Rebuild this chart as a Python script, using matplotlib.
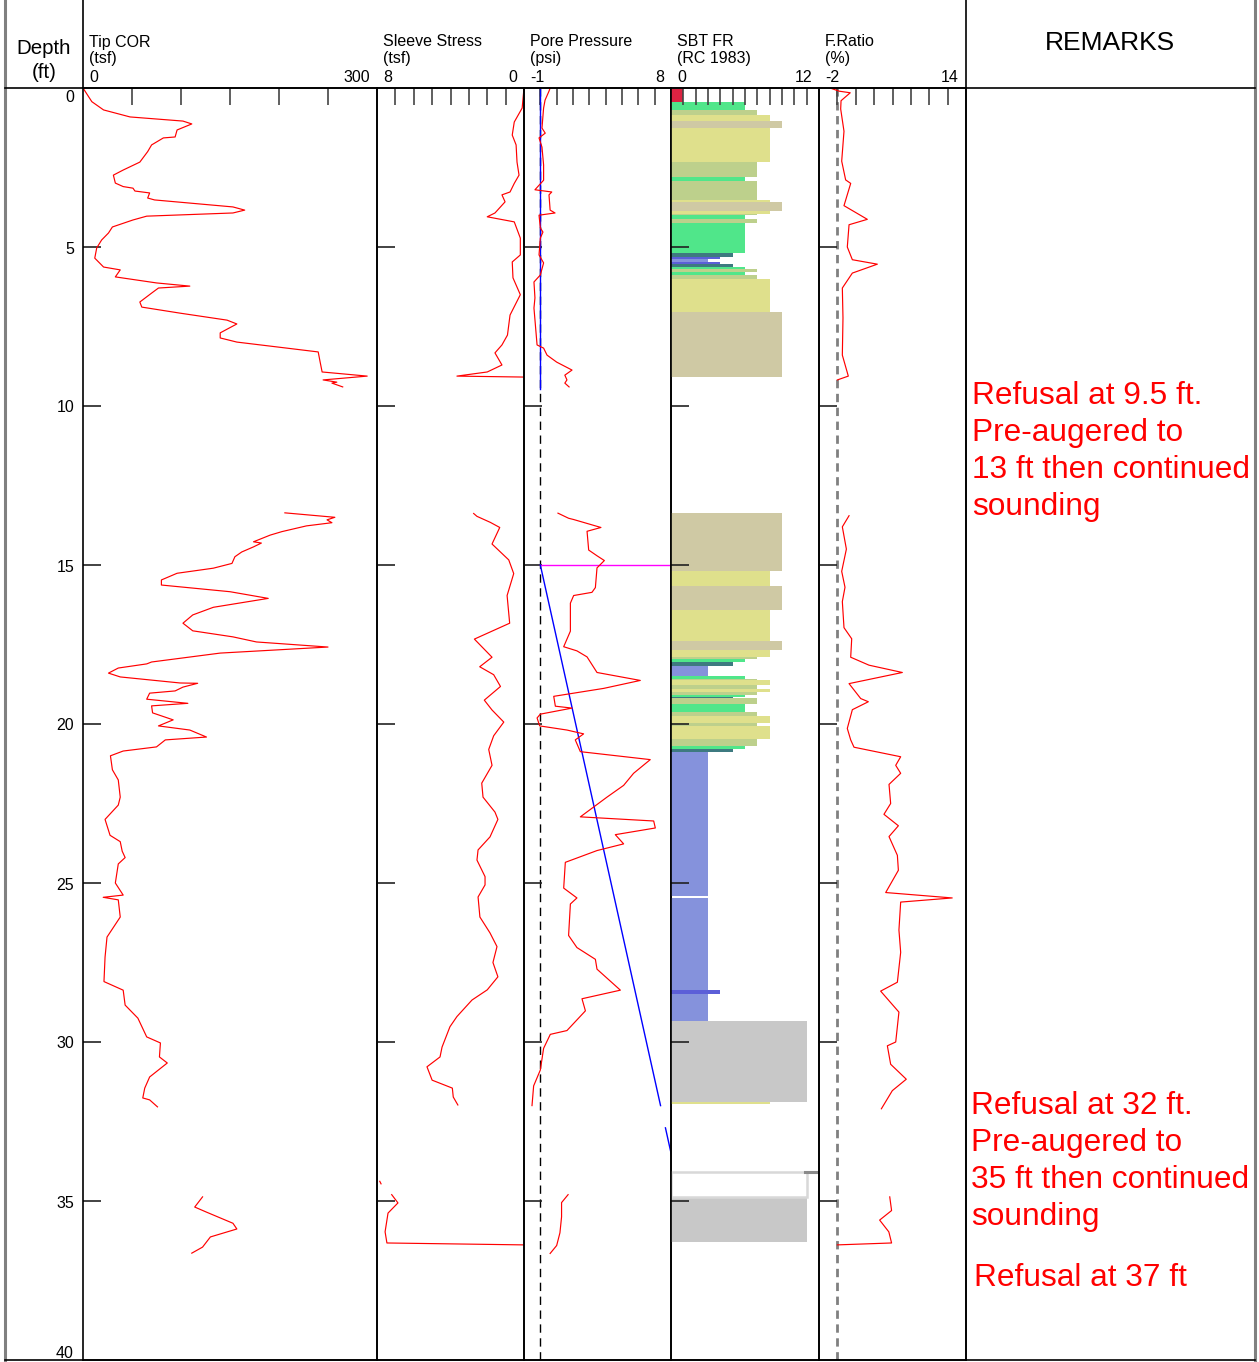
import matplotlib
matplotlib.use("Agg")
import matplotlib.pyplot as plt
from matplotlib.lines import Line2D

plt.rcParams['font.family'] = ['Liberation Sans', 'DejaVu Sans']

W, H = 1259, 1362
TOP, BOT = 88, 1360          # pixel rows of depth 0 and depth 40
MAX_DEPTH = 40

# ---- Tip COR (tsf) ----
tip_depth_a = [0, 0.43, 0.69, 0.91, 1.04, 1.13, 1.32, 1.54, 1.57, 1.79, 2.0, 2.33, 2.58, 2.74,
               2.99, 3.1, 3.15, 3.24, 3.3, 3.46, 3.52, 3.74, 3.84, 3.93, 4.03, 4.15, 4.37, 4.56,
               4.78, 5.03, 5.35, 5.63, 5.72, 5.94, 6.13, 6.23, 6.29, 6.45, 6.73, 6.89, 7.08, 7.3,
               7.42, 7.7, 7.86, 7.99, 8.18, 8.3, 8.62, 8.93, 9.06, 9.18, 9.25, 9.28, 9.4]
tip_tsf_a = [0, 9, 21, 48, 102, 111, 96, 94, 82, 70, 66, 58, 41, 31, 33, 41, 51, 53, 68, 66, 73,
             153, 165, 153, 65, 51, 30, 26, 19, 14, 12, 21, 38, 33, 75, 109, 77, 70, 58, 60, 99,
             147, 157, 140, 140, 157, 208, 240, 242, 244, 290, 245, 259, 254, 265]
tip_depth_b = [13.36, 13.5, 13.58, 13.67, 13.77, 13.95, 14.06, 14.27, 14.31, 14.43, 14.59, 14.74,
               14.95, 15.1, 15.26, 15.47, 15.63, 15.84, 16.05, 16.33, 16.57, 16.83, 17.07, 17.26,
               17.42, 17.58, 17.77, 18.05, 18.11, 18.24, 18.4, 18.52, 18.71, 18.72, 18.84, 18.96,
               19.03, 19.22, 19.35, 19.43, 19.65, 19.87, 20.06, 20.19, 20.41, 20.5, 20.72, 20.85,
               21.0, 21.44, 21.76, 22.3, 22.55, 23.0, 23.5, 23.7, 24.0, 24.2, 24.4, 25.0, 25.38,
               25.45, 25.53, 26.07, 26.7, 27.33, 28.1, 28.37, 28.84, 29.25, 29.84, 30.03, 30.47,
               30.66, 31.1, 31.45, 31.76, 31.82, 32.04]
tip_tsf_b = [206, 257, 249, 254, 228, 203, 191, 174, 182, 174, 162, 155, 152, 133, 96, 80, 80,
             150, 189, 133, 112, 102, 112, 153, 177, 250, 140, 70, 65, 36, 26, 38, 99, 117, 102,
             94, 68, 65, 107, 70, 71, 92, 77, 109, 126, 84, 75, 41, 28, 30, 36, 38, 36, 22.5,
             27.6, 38, 40, 43, 36, 33, 41, 20.6, 36, 38, 24.5, 22.5, 21.4, 41, 43, 56, 65, 79, 78,
             86, 68, 63, 61, 68, 76]
tip_depth_c = [34.87, 35.19, 35.35, 35.7, 35.88, 36.13, 36.45, 36.64]
tip_tsf_c = [122, 114, 126, 153, 157, 130, 122, 111]

# ---- Sleeve stress (tsf) ----
fs_depth_a = [0, 0.63, 1.07, 1.48, 1.79, 2.33, 2.74, 3.0, 3.27, 3.36, 3.58, 3.93, 4.05, 4.21,
              4.72, 5.25, 5.47, 5.97, 6.5, 7.14, 7.77, 8.08, 8.33, 8.71, 8.93, 9.06, 9.09]
fs_tsf_a = [0, 0.1, 0.53, 0.64, 0.43, 0.38, 0.27, 0.53, 0.76, 1.2, 1.03, 1.58, 2.0, 0.53, 0.2,
            0.2, 0.64, 0.6, 0.2, 0.76, 0.9, 1.2, 1.58, 1.2, 2.0, 3.65, 0.0]
fs_depth_b = [13.38, 13.47, 13.66, 13.82, 14.34, 14.84, 15.27, 15.96, 16.83, 17.33, 17.9, 18.2,
              18.45, 18.82, 19.25, 19.56, 19.94, 20.37, 20.8, 21.3, 21.86, 22.3, 22.77, 23.0,
              23.55, 23.96, 24.28, 24.8, 25.06, 25.44, 26.07, 26.57, 27.0, 27.5, 27.95, 28.36,
              28.68, 29.2, 29.52, 30.16, 30.47, 30.78, 31.2, 31.45, 31.73, 31.98]
fs_tsf_b = [2.74, 2.56, 1.83, 1.32, 1.74, 0.83, 0.56, 0.92, 0.78, 2.7, 1.74, 2.41, 1.65, 1.28,
            2.16, 1.74, 1.1, 1.65, 1.92, 1.74, 2.3, 2.23, 1.58, 1.42, 1.85, 2.5, 2.56, 2.12,
            2.12, 2.5, 2.4, 1.85, 1.47, 1.69, 1.42, 2.0, 2.83, 3.65, 4.03, 4.46, 4.57, 5.28, 5.0,
            3.9, 3.85, 3.6]
fs_depth_c = [34.8, 35.06, 35.38, 35.97, 36.32, 36.38]
fs_tsf_c = [7.2, 6.86, 7.4, 7.56, 7.46, 0.05]
fs_depth_dot = [34.38, 34.46]
fs_tsf_dot = [7.85, 7.78]

# ---- Pore pressure (psi) ----
u_depth_a = [0, 0.1, 0.38, 0.63, 1.26, 1.42, 1.57, 1.86, 2.42, 2.9, 3.2, 3.27, 3.36, 3.84, 3.93,
             4.0, 4.4, 4.53, 4.72, 5.25, 5.5, 5.88, 6.1, 6.6, 6.92, 8.08, 8.18, 8.4, 8.62, 8.87,
             9.03, 9.18, 9.28, 9.4]
u_psi_a = [0.6, 0.53, 0.29, 0.2, 0.1, 0.3, -0.08, 0.1, 0.2, 0.2, -0.33, 0.7, 0.53, 0.6, 0.9,
           -0.08, 0.0, 0.16, 0.0, -0.08, 0.2, 0.0, -0.39, -0.33, -0.39, -0.2, 0.2, 0.41, 1.0,
           1.94, 1.5, 1.63, 1.5, 1.76]
u_depth_b = [13.37, 13.53, 13.57, 13.82, 13.94, 14.53, 14.71, 14.86, 15.09, 15.71, 15.86, 15.96,
             16.2, 17.08, 17.57, 17.7, 17.89, 18.38, 18.63, 18.88, 19.13, 19.44, 19.5, 19.69,
             19.81, 20.06, 20.19, 20.31, 20.5, 20.87, 21.12, 21.55, 21.93, 22.3, 22.92, 23.05,
             23.27, 23.48, 23.77, 23.98, 24.35, 25.16, 25.47, 25.66, 26.65, 27.03, 27.4, 27.71,
             28.37, 28.64, 29.02, 29.64, 29.76, 30.2, 30.88, 31.38, 32.0]
u_psi_b = [1.08, 1.73, 2.04, 3.71, 2.86, 2.96, 3.47, 3.92, 3.47, 3.37, 3.16, 2.04, 1.84, 1.84,
           1.43, 2.24, 2.86, 3.47, 6.12, 3.88, 0.82, 0.92, 1.94, 0.0, -0.2, -0.04, 1.63, 2.65,
           2.14, 2.45, 6.73, 5.71, 5.1, 4.08, 2.45, 6.94, 7.04, 4.59, 5.1, 3.47, 1.53, 1.43,
           2.24, 1.84, 1.73, 2.24, 3.37, 3.47, 4.9, 2.55, 2.76, 1.63, 0.61, 0.2, 0.0, -0.41,
           -0.51]
u_depth_c = [34.8, 35.05, 35.5, 36.0, 36.4, 36.65]
u_psi_c = [1.7, 1.3, 1.3, 1.2, 1.0, 0.6]

# hydrostatic line (water table at 15 ft)
water_table = 15.0
hydro_depth_a = [0, 9.45]
hydro_psi_a = [0, 0]
hydro_depth_b = [15.0, 32.0]
hydro_psi_b = [0, 7.36]
hydro_depth_c = [32.7, 34.0]
hydro_psi_c = [7.66, 8.22]

# ---- Friction ratio (%) ----
fr_depth_a = [0.0, 0.1, 0.15, 0.4, 0.66, 1.36, 2.3, 2.89, 3.0, 3.7, 4.13, 4.3, 5.0, 5.4, 5.54,
              5.82, 6.29, 7.23, 8.4, 9.06, 9.18]
fr_pct_a = [-0.8, 0.2, 1.4, 0.4, 0.36, 0.72, 0.47, 0.9, 1.45, 0.72, 3.26, 1.27, 1.08, 1.63,
            4.35, 1.63, 0.54, 0.61, 0.54, 1.19, 0.0]
fr_depth_b = [13.45, 13.8, 14.5, 15.2, 15.7, 16.15, 16.97, 17.32, 17.9, 18.15, 18.38, 18.73,
              19.2, 19.3, 19.55, 20.14, 20.5, 20.73, 21.03, 21.3, 21.55, 21.9, 22.5, 22.84,
              23.2, 23.54, 24.13, 24.6, 25.3, 25.47, 25.6, 26.48, 27.18, 28.12, 28.4, 29.06,
              30.0, 30.12, 30.7, 31.17, 31.53, 32.1]
fr_pct_b = [1.27, 0.54, 0.98, 0.47, 0.83, 0.54, 0.72, 1.56, 1.45, 3.44, 7.07, 1.27, 2.54, 3.37,
            1.63, 1.08, 1.45, 1.81, 6.89, 6.35, 6.89, 5.62, 5.8, 5.07, 6.64, 5.62, 6.53, 6.64,
            5.26, 12.5, 6.89, 6.7, 6.89, 6.53, 4.71, 6.7, 6.35, 5.44, 5.8, 7.5, 5.98, 4.79]
fr_depth_c = [34.87, 35.3, 35.6, 35.97, 36.32, 36.38]
fr_pct_c = [5.7, 5.9, 4.6, 5.6, 5.9, 0.0]

# ---- SBT layers (top ft, bottom ft, zone) ----
sbt_top = [0.03, 0.44, 0.69, 0.85, 1.04, 1.26, 2.33, 2.80, 2.92, 3.52, 3.58, 3.87, 3.95, 4.0,
           4.12, 4.26, 5.19, 5.31, 5.38, 5.47, 5.53, 5.62, 5.68, 5.79, 5.88, 6.0, 7.05,
           13.36, 15.2, 15.66, 16.4, 17.4, 17.67, 17.9, 17.97, 18.05, 18.18, 18.5, 18.57,
           18.62, 18.77, 18.9, 18.98, 19.08, 19.14, 19.17, 19.37, 19.62, 19.75, 19.97, 20.06,
           20.47, 20.69, 20.8, 20.88, 25.48, 28.35, 28.5, 29.33, 31.9, 34.87]
sbt_bot = [0.44, 0.69, 0.85, 1.04, 1.26, 2.33, 2.80, 2.92, 3.52, 3.58, 3.87, 3.95, 4.0, 4.12,
           4.26, 5.19, 5.31, 5.38, 5.47, 5.53, 5.62, 5.68, 5.79, 5.88, 6.0, 7.05, 9.09,
           15.2, 15.66, 16.4, 17.4, 17.67, 17.9, 17.97, 18.05, 18.18, 18.5, 18.57, 18.62,
           18.77, 18.9, 18.98, 19.08, 19.14, 19.17, 19.37, 19.62, 19.75, 19.97, 20.06, 20.47,
           20.69, 20.8, 20.88, 25.42, 28.35, 28.5, 29.33, 31.9, 31.96, 36.3]
sbt_zone = [1, 6, 7, 8, 9, 8, 7, 6, 7, 8, 9, 8, 7, 6, 7, 6, 5, 4, 3, 4, 5, 6, 7, 6, 7, 8, 9,
            9, 8, 9, 8, 9, 8, 7, 6, 5, 3, 6, 7, 8, 7, 8, 7, 6, 5, 7, 6, 7, 8, 7, 8,
            7, 6, 5, 3, 3, 4, 3, 11, 8, 11]
augered_top, augered_bot, augered_zone = 34.08, 34.87, 11

ZONE_COLORS = {1: '#dc2342', 3: '#8592dc', 4: '#5c5fd8', 5: '#3e7a80', 6: '#50e68a',
               7: '#bdd08c', 8: '#dfe08c', 9: '#cfc9a4', 11: '#c8c8c8'}

remarks_1 = ["Refusal at 9.5 ft.", "Pre-augered to", "13 ft then continued", "sounding"]
remarks_2 = ["Refusal at 32 ft.", "Pre-augered to", "35 ft then continued", "sounding"]
remarks_3 = ["Refusal at 37 ft"]

# panel layout: x0, x1 (pixels), xlim, tick values, title, unit, range labels
PANELS = [
    ("tip", 83, 377, (0, 300), [50, 100, 150, 200, 250], "Tip COR", "(tsf)", ("0", "300")),
    ("fs", 377, 524, (8, 0), [7, 6, 5, 4, 3, 2, 1], "Sleeve Stress", "(tsf)", ("8", "0")),
    ("u", 524, 671, (-1, 8), [0, 1, 2, 3, 4, 5, 6, 7], "Pore Pressure", "(psi)", ("-1", "8")),
    ("sbt", 671, 819, (0, 12), list(range(1, 12)), "SBT FR", "(RC 1983)", ("0", "12")),
    ("fr", 819, 966, (-2, 14), [0, 2, 4, 6, 8, 10, 12], "F.Ratio", "(%)", ("-2", "14")),
]


def fx(x):
    return x / W


def fy(y):
    return 1 - y / H


def depth_px(d):
    return TOP + (BOT - TOP) * d / MAX_DEPTH


fig = plt.figure(figsize=(W / 100, H / 100), dpi=100)
axes = {}
for name, x0, x1, xlim, ticks, title, unit, rng in PANELS:
    ax = fig.add_axes([fx(x0), fy(BOT), (x1 - x0) / W, (BOT - TOP) / H])
    ax.set_xlim(*xlim)
    ax.set_ylim(MAX_DEPTH, 0)
    ax.xaxis.tick_top()
    ax.set_xticks(ticks)
    ax.tick_params(axis='x', direction='in', length=12, width=1.2, color='#444444',
                   labeltop=False, labelbottom=False)
    ax.set_yticks(range(5, 40, 5))
    ax.tick_params(axis='y', direction='in', length=13, width=1.2, color='#222222',
                   labelleft=False)
    for sp in ax.spines.values():
        sp.set_linewidth(1.2)
    ax.patch.set_alpha(0)
    axes[name] = ax
    fig.text(fx(x0 + 6), fy(42), title, fontsize=11.5, va='center', ha='left')
    fig.text(fx(x0 + 6), fy(59), unit, fontsize=11.5, va='center', ha='left')
    fig.text(fx(x0 + 6), fy(77), rng[0], fontsize=11.5, va='center', ha='left')
    fig.text(fx(x1 - 7), fy(77), rng[1], fontsize=11.5, va='center', ha='right')

red = dict(color='red', lw=0.85)
ax = axes["tip"]
for d, v in [(tip_depth_a, tip_tsf_a), (tip_depth_b, tip_tsf_b), (tip_depth_c, tip_tsf_c)]:
    ax.plot(v, d, **red)

ax = axes["fs"]
for d, v in [(fs_depth_a, fs_tsf_a), (fs_depth_b, fs_tsf_b), (fs_depth_c, fs_tsf_c),
             (fs_depth_dot, fs_tsf_dot)]:
    ax.plot(v, d, **red)

ax = axes["u"]
ax.axvline(0, color='black', lw=1, ls=(0, (6, 4)), zorder=1)
ax.plot([0, 8], [water_table, water_table], color='magenta', lw=1, clip_on=False)
for d, v in [(hydro_depth_a, hydro_psi_a), (hydro_depth_b, hydro_psi_b),
             (hydro_depth_c, hydro_psi_c)]:
    ax.plot(v, d, color='blue', lw=1)
for d, v in [(u_depth_a, u_psi_a), (u_depth_b, u_psi_b), (u_depth_c, u_psi_c)]:
    ax.plot(v, d, **red)

ax = axes["sbt"]
for t, b, z in zip(sbt_top, sbt_bot, sbt_zone):
    ax.barh(t, z, height=b - t, left=0, align='edge', color=ZONE_COLORS[z], lw=0)
# pre-augered gap outline plus the short step on its right
ax.barh(augered_top, augered_zone, height=augered_bot - augered_top, left=0, align='edge',
        facecolor='white', edgecolor='#d8d8d8', lw=1.8)
ax.plot([augered_zone - 0.1, 12], [augered_top, augered_top], color='#8a8a8a', lw=2.2)

ax = axes["fr"]
ax.axvline(0, color='#808080', lw=2, ls=(0, (3, 2)), zorder=1)
for d, v in [(fr_depth_a, fr_pct_a), (fr_depth_b, fr_pct_b), (fr_depth_c, fr_pct_c)]:
    ax.plot(v, d, **red)

# frame lines
lines = [
    ([5, 5], [0, H], '#808080', 2.2),
    ([1255, 1255], [0, H], '#808080', 2.2),
    ([83, 83], [0, TOP], 'black', 1.2),
    ([966, 966], [0, BOT], 'black', 1.2),
    ([5, 1255], [TOP, TOP], 'black', 1.2),
    ([5, 1255], [BOT, BOT], 'black', 1.2),
]
for xs, ys, c, lw in lines:
    fig.add_artist(Line2D([fx(x) for x in xs], [fy(y) for y in ys], color=c, lw=lw))

# depth labels
for d in range(0, 45, 5):
    y = depth_px(d) + 2
    if d == 0:
        y += 8
    elif d == 40:
        y -= 9
    fig.text(fx(74), fy(y), str(d), fontsize=11.5, ha='right', va='center')

fig.text(fx(44), fy(49), "Depth", fontsize=14.8, ha='center', va='center')
fig.text(fx(44), fy(73), "(ft)", fontsize=14.8, ha='center', va='center')
fig.text(fx(1110), fy(43), "REMARKS", fontsize=19, ha='center', va='center')

for lines_, x0, y0 in [(remarks_1, 972, 396), (remarks_2, 971, 1106), (remarks_3, 974, 1278)]:
    for i, s in enumerate(lines_):
        fig.text(fx(x0), fy(y0 + i * 37), s, fontsize=22.8, color='red', ha='left',
                 va='center')

fig.savefig("out.png", dpi=100, facecolor='white')
